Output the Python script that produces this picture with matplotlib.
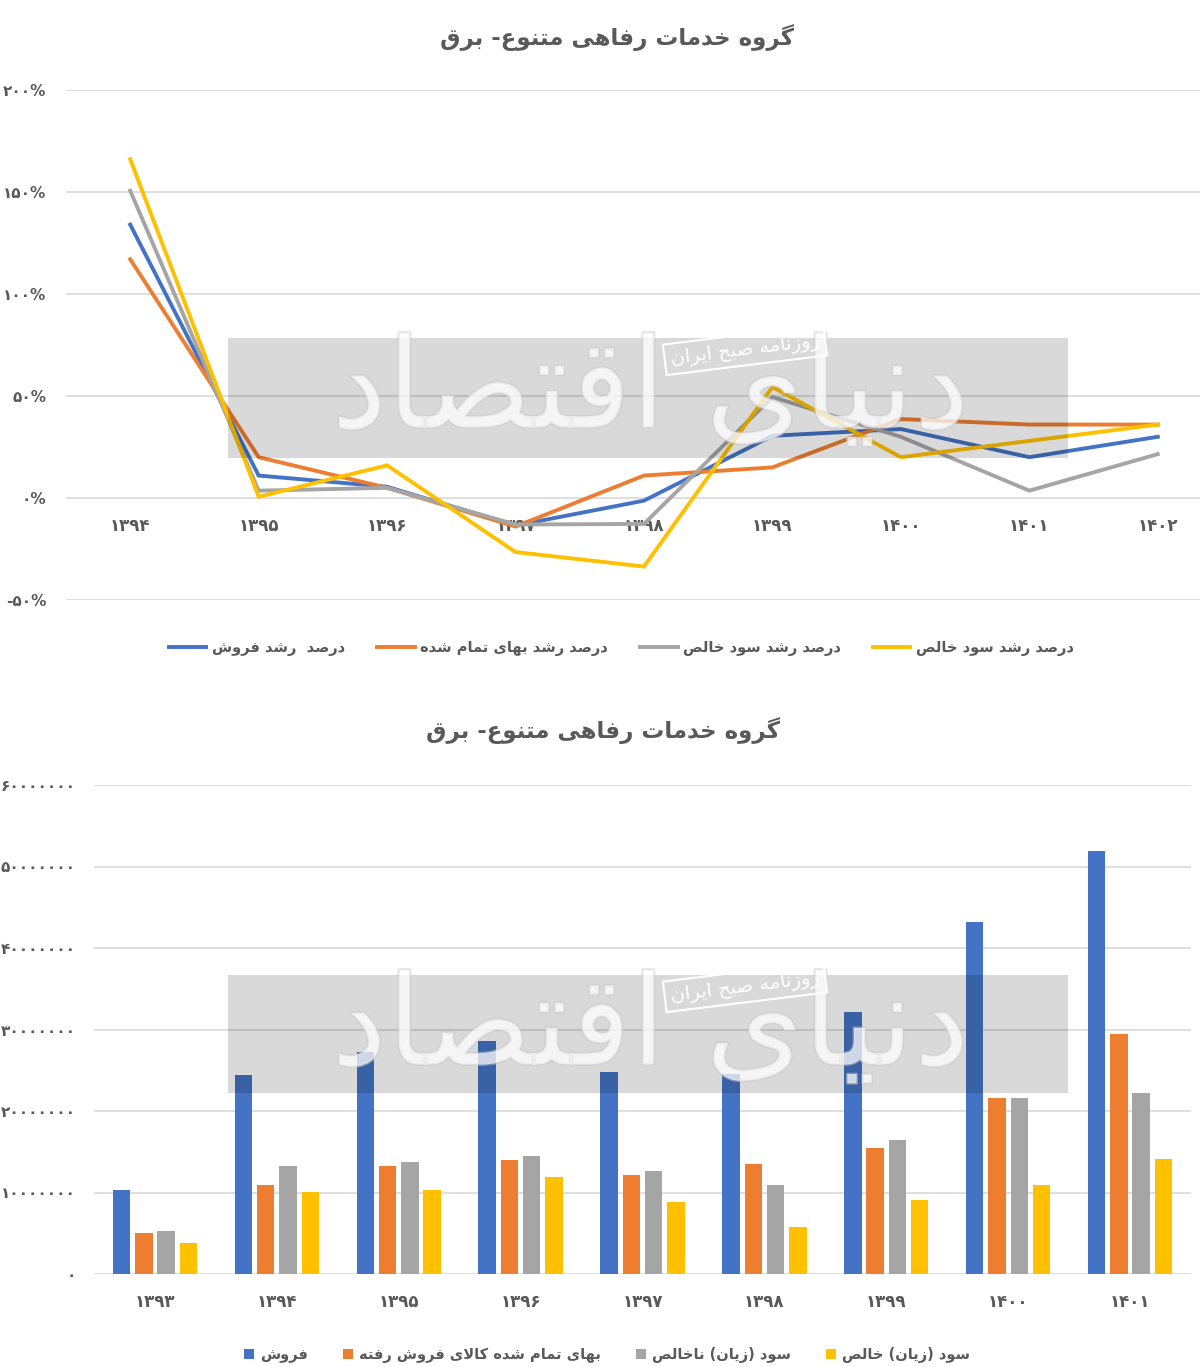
import numpy as np
import matplotlib
matplotlib.use('Agg')
import matplotlib.pyplot as plt
from matplotlib.patches import Rectangle
import matplotlib.patheffects as pe

# --- simple persian shaping (matplotlib has no bidi / joining) ---
# (isolated, final, initial, medial); right-joining letters have no initial/medial
FORMS = {
    'ا': (0xFE8D, 0xFE8E, None, None), 'آ': (0xFE81, 0xFE82, None, None),
    'ب': (0xFE8F, 0xFE90, 0xFE91, 0xFE92), 'پ': (0xFB56, 0xFB57, 0xFB58, 0xFB59),
    'ت': (0xFE95, 0xFE96, 0xFE97, 0xFE98), 'ث': (0xFE99, 0xFE9A, 0xFE9B, 0xFE9C),
    'ج': (0xFE9D, 0xFE9E, 0xFE9F, 0xFEA0), 'چ': (0xFB7A, 0xFB7B, 0xFB7C, 0xFB7D),
    'ح': (0xFEA1, 0xFEA2, 0xFEA3, 0xFEA4), 'خ': (0xFEA5, 0xFEA6, 0xFEA7, 0xFEA8),
    'د': (0xFEA9, 0xFEAA, None, None), 'ذ': (0xFEAB, 0xFEAC, None, None),
    'ر': (0xFEAD, 0xFEAE, None, None), 'ز': (0xFEAF, 0xFEB0, None, None),
    'ژ': (0xFB8A, 0xFB8B, None, None),
    'س': (0xFEB1, 0xFEB2, 0xFEB3, 0xFEB4), 'ش': (0xFEB5, 0xFEB6, 0xFEB7, 0xFEB8),
    'ص': (0xFEB9, 0xFEBA, 0xFEBB, 0xFEBC), 'ض': (0xFEBD, 0xFEBE, 0xFEBF, 0xFEC0),
    'ط': (0xFEC1, 0xFEC2, 0xFEC3, 0xFEC4), 'ظ': (0xFEC5, 0xFEC6, 0xFEC7, 0xFEC8),
    'ع': (0xFEC9, 0xFECA, 0xFECB, 0xFECC), 'غ': (0xFECD, 0xFECE, 0xFECF, 0xFED0),
    'ف': (0xFED1, 0xFED2, 0xFED3, 0xFED4), 'ق': (0xFED5, 0xFED6, 0xFED7, 0xFED8),
    'ک': (0xFB8E, 0xFB8F, 0xFB90, 0xFB91), 'گ': (0xFB92, 0xFB93, 0xFB94, 0xFB95),
    'ل': (0xFEDD, 0xFEDE, 0xFEDF, 0xFEE0), 'م': (0xFEE1, 0xFEE2, 0xFEE3, 0xFEE4),
    'ن': (0xFEE5, 0xFEE6, 0xFEE7, 0xFEE8), 'ه': (0xFEE9, 0xFEEA, 0xFEEB, 0xFEEC),
    'و': (0xFEED, 0xFEEE, None, None), 'ی': (0xFBFC, 0xFBFD, 0xFBFE, 0xFBFF),
}
MIRROR = {'(': ')', ')': '('}


def fa(text):
    out = []
    i = 0
    n = len(text)
    while i < n:
        c = text[i]
        if c not in FORMS:
            out.append(MIRROR.get(c, c))
            i += 1
            continue
        prev = text[i - 1] if i > 0 else ''
        joins_prev = prev in FORMS and FORMS[prev][2] is not None
        nxt = text[i + 1] if i + 1 < n else ''
        if c == 'ل' and nxt in ('ا', 'آ'):
            lig = (0xFEFB, 0xFEFC) if nxt == 'ا' else (0xFEF5, 0xFEF6)
            out.append(chr(lig[1] if joins_prev else lig[0]))
            i += 2
            continue
        f = FORMS[c]
        joins_next = f[2] is not None and nxt in FORMS
        if joins_prev and joins_next:
            code = f[3]
        elif joins_prev:
            code = f[1]
        elif joins_next:
            code = f[2]
        else:
            code = f[0]
        out.append(chr(code))
        i += 1
    return ''.join(reversed(out))


def fa_num(s):
    return ''.join(chr(0x06F0 + int(ch)) if ch.isdigit() else ch for ch in str(s))


# ---------------- data ----------------
title = 'گروه خدمات رفاهی متنوع- برق'

growth_years = [1394, 1395, 1396, 1397, 1398, 1399, 1400, 1401, 1402]
growth_labels = ['درصد  رشد فروش', 'درصد رشد بهای تمام شده',
                 'درصد رشد سود خالص', 'درصد رشد سود خالص']
sales_growth = [134, 11, 5.5, -13.5, -1.3, 30.5, 33.8, 20, 30]
cost_growth = [117, 20, 5, -14, 11, 15, 38.7, 36, 36]
gross_growth = [150.6, 3.6, 5, -13, -12.7, 49.5, 30, 3.6, 21.5]
net_growth = [166, 0.6, 16, -26.5, -33.6, 54.4, 20, 28, 36]
growth_ticks = [-50, 0, 50, 100, 150, 200]

bar_years = [1393, 1394, 1395, 1396, 1397, 1398, 1399, 1400, 1401]
bar_labels = ['فروش', 'بهای تمام شده کالای فروش رفته',
              'سود (زیان) ناخالص', 'سود (زیان) خالص']
sales = [10.35, 24.4, 27.2, 28.6, 24.8, 24.6, 32.1, 43.2, 51.9]
cost = [5.0, 10.95, 13.3, 14.0, 12.1, 13.45, 15.5, 21.55, 29.45]
gross = [5.25, 13.3, 13.8, 14.45, 12.6, 10.95, 16.5, 21.55, 22.25]
net = [3.75, 10.1, 10.25, 11.95, 8.8, 5.8, 9.1, 10.95, 14.05]
bar_ticks = [0, 10000000, 20000000, 30000000, 40000000, 50000000, 60000000]

colors = ['#4472C4', '#ED7D31', '#A5A5A5', '#FFC000']
txt = '#595959'
grid = '#D9D9D9'

W, H = 1200, 1367
fig = plt.figure(figsize=(12, 13.67), dpi=100)
plt.rcParams['font.family'] = ['DejaVu Sans']


def box(x0, y0, x1, y1):
    return [x0 / W, 1 - y1 / H, (x1 - x0) / W, (y1 - y0) / H]


# ---------------- line chart ----------------
ax1 = fig.add_axes(box(66, 90, 1222, 600))
x = np.arange(len(growth_years))
for vals, c, lab in zip([sales_growth, cost_growth, gross_growth, net_growth], colors, growth_labels):
    ax1.plot(x, vals, color=c, lw=2.8, label=fa(lab), solid_joinstyle='miter', zorder=3)
ax1.set_xlim(-0.5, len(x) - 0.5)
ax1.set_ylim(-50, 200)
ax1.set_yticks(growth_ticks)
ax1.set_yticklabels([fa_num(f'{v}%') for v in growth_ticks])
ax1.set_xticks(x)
ax1.set_xticklabels([fa_num(y) for y in growth_years])
ax1.grid(axis='y', color=grid, lw=1.2)
ax1.set_axisbelow(True)
for s in ax1.spines.values():
    s.set_visible(False)
ax1.spines['bottom'].set_position(('data', 0))
ax1.tick_params(axis='both', length=0, colors=txt)
ax1.tick_params(axis='x', pad=14, labelsize=12)
ax1.tick_params(axis='y', pad=14, labelsize=11)
for t in ax1.get_xticklabels() + ax1.get_yticklabels():
    t.set_fontweight('bold')

fig.text(617 / W, 1 - 38 / H, fa(title), ha='center', va='center',
         fontsize=16.5, fontweight='bold', color=txt)
leg1 = fig.legend(*ax1.get_legend_handles_labels(), loc='center', ncol=4,
                  bbox_to_anchor=(621 / W, 1 - 648 / H), frameon=False,
                  fontsize=10.5, handlelength=2.6, columnspacing=2.2, handletextpad=0.35)
for t in leg1.get_texts():
    t.set_color(txt)
    t.set_fontweight('bold')

# ---------------- bar chart ----------------
ax2 = fig.add_axes(box(94, 785, 1191, 1274))
xb = np.arange(len(bar_years))
step, bw = 0.183, 0.143
for k, (vals, c, lab) in enumerate(zip([sales, cost, gross, net], colors, bar_labels)):
    ax2.bar(xb + (k - 1.5) * step, np.array(vals) * 1e6, width=bw, color=c,
            label=fa(lab), zorder=3)
ax2.set_xlim(-0.5, len(xb) - 0.5)
ax2.set_ylim(0, 60e6)
ax2.set_yticks(bar_ticks)
ax2.set_yticklabels([fa_num(v) for v in bar_ticks])
ax2.set_xticks(xb)
ax2.set_xticklabels([fa_num(y) for y in bar_years])
ax2.grid(axis='y', color=grid, lw=1.2)
ax2.set_axisbelow(True)
for s in ax2.spines.values():
    s.set_visible(False)
ax2.tick_params(axis='both', length=0, colors=txt)
ax2.tick_params(axis='x', pad=14, labelsize=12)
ax2.tick_params(axis='y', pad=13, labelsize=11)
for t in ax2.get_xticklabels() + ax2.get_yticklabels():
    t.set_fontweight('bold')

fig.text(603 / W, 1 - 731 / H, fa(title), ha='center', va='center',
         fontsize=16.5, fontweight='bold', color=txt)
h2, l2 = ax2.get_legend_handles_labels()
leg2 = fig.legend(h2, l2, loc='center', ncol=4,
                  bbox_to_anchor=(607 / W, 1 - 1355 / H), frameon=False,
                  fontsize=10.5, handlelength=0.7, handleheight=0.7,
                  columnspacing=2.4, handletextpad=0.4)
for t in leg2.get_texts():
    t.set_color(txt)
    t.set_fontweight('bold')

# ---------------- watermark ----------------
for (y0, y1, ly) in [(338, 458, 350), (975, 1093, 987)]:
    fig.patches.append(Rectangle((228 / W, 1 - y1 / H), 840 / W, (y1 - y0) / H,
                                 transform=fig.transFigure, color='black',
                                 alpha=0.15, lw=0, zorder=10))
    fig.text(650 / W, 1 - (y0 + 55) / H, fa('دنیای اقتصاد'), ha='center', va='center',
             fontsize=90, color='white', alpha=0.5, zorder=11,
             path_effects=[pe.withStroke(linewidth=2, foreground='#c8c8c8')])
    fig.text(745 / W, 1 - ly / H, fa('روزنامه صبح ایران'), ha='center', va='center',
             fontsize=14, color='white', rotation=7, zorder=12,
             bbox=dict(boxstyle='square,pad=0.3', fc='none', ec='white', lw=1.5))

fig.savefig('out.png', dpi=100)
